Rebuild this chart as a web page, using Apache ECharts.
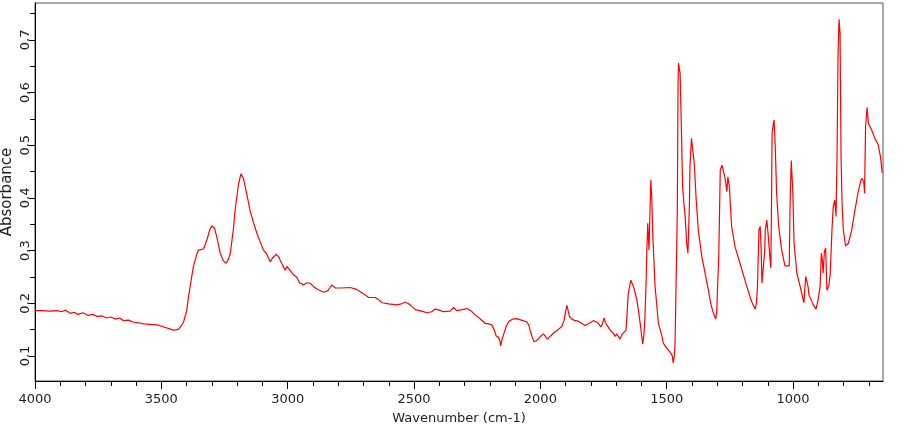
<!DOCTYPE html>
<html>
<head>
<meta charset="utf-8">
<script src="https://cdn.jsdelivr.net/npm/echarts@6/dist/echarts.min.js"></script>
<style>html,body{margin:0;padding:0;background:#fff;}#c{width:909px;height:425px;}</style>
</head>
<body>
<div id="c"></div>
<script>
const wavenumbers = [4000,3970,3940,3913,3895,3880,3860,3845,3830,3810,3790,3770,3755,3735,3715,3700,3680,3665,3650,3630,3610,3590,3570,3545,3517,3490,3470,3452,3440,3432,3420,3412,3400,3392,3380,3373,3360,3353,3333,3320,3308,3300,3290,3280,3267,3255,3244,3235,3227,3215,3208,3195,3185,3175,3168,3158,3148,3135,3122,3110,3096,3085,3069,3060,3045,3035,3030,3020,3010,3003,2997,2990,2977,2965,2953,2937,2924,2911,2898,2884,2858,2841,2832,2825,2812,2790,2753,2730,2713,2690,2680,2654,2640,2627,2600,2568,2550,2535,2525,2515,2495,2470,2449,2430,2416,2400,2384,2357,2344,2331,2310,2291,2275,2258,2240,2219,2205,2192,2183,2175,2166,2160,2157,2152,2146,2136,2126,2110,2093,2075,2054,2045,2041,2033,2025,2016,2008,1998,1988,1980,1972,1960,1942,1930,1915,1906,1900,1895,1888,1885,1875,1863,1850,1840,1836,1823,1816,1803,1790,1780,1770,1761,1755,1748,1742,1737,1725,1717,1710,1704,1698,1691,1685,1678,1671,1661,1652,1642,1637,1632,1625,1618,1610,1605,1598,1595,1590,1586,1581,1579,1575,1572,1570,1567,1563,1559,1555,1546,1533,1520,1513,1500,1493,1488,1483,1478,1474,1470,1467,1463,1458,1455,1453,1450,1447,1442,1437,1432,1427,1421,1416,1413,1410,1408,1402,1398,1395,1391,1384,1375,1361,1348,1335,1326,1315,1306,1302,1300,1294,1288,1281,1276,1270,1268,1262,1258,1256,1252,1243,1230,1210,1183,1164,1150,1145,1141,1135,1130,1126,1123,1116,1112,1110,1104,1098,1092,1088,1085,1083,1078,1075,1070,1065,1057,1045,1032,1015,1012,1009,1007,1004,1001,996,985,972,957,953,950,944,940,937,920,909,901,893,888,884,881,876,871,866,859,853,846,841,835,830,826,822,818,814,810,806,801,792,781,768,755,742,729,720,717,713,707,702,689,676,663,654,647];
const absorbance = [0.186,0.186,0.185,0.186,0.184,0.187,0.181,0.183,0.179,0.182,0.177,0.179,0.175,0.176,0.172,0.174,0.170,0.172,0.167,0.168,0.164,0.163,0.161,0.160,0.159,0.155,0.152,0.149,0.150,0.151,0.158,0.165,0.185,0.213,0.250,0.270,0.293,0.301,0.303,0.320,0.340,0.347,0.343,0.325,0.295,0.281,0.276,0.283,0.295,0.340,0.377,0.425,0.446,0.437,0.421,0.398,0.374,0.353,0.333,0.318,0.301,0.295,0.279,0.286,0.293,0.288,0.282,0.272,0.263,0.270,0.268,0.262,0.254,0.250,0.239,0.235,0.239,0.238,0.232,0.227,0.221,0.224,0.230,0.235,0.229,0.229,0.230,0.227,0.222,0.215,0.211,0.211,0.207,0.201,0.199,0.197,0.199,0.202,0.200,0.197,0.188,0.185,0.182,0.184,0.189,0.187,0.184,0.185,0.192,0.186,0.188,0.190,0.186,0.178,0.171,0.162,0.161,0.159,0.150,0.138,0.136,0.128,0.119,0.131,0.140,0.155,0.165,0.170,0.171,0.168,0.165,0.158,0.149,0.137,0.127,0.129,0.132,0.138,0.142,0.137,0.132,0.138,0.146,0.150,0.156,0.168,0.185,0.196,0.182,0.175,0.170,0.167,0.166,0.163,0.165,0.158,0.157,0.163,0.167,0.165,0.162,0.155,0.160,0.172,0.163,0.159,0.150,0.146,0.142,0.137,0.142,0.143,0.132,0.140,0.144,0.149,0.219,0.244,0.238,0.232,0.220,0.206,0.180,0.162,0.135,0.123,0.140,0.175,0.250,0.295,0.352,0.320,0.301,0.360,0.434,0.400,0.327,0.232,0.162,0.140,0.124,0.115,0.111,0.108,0.105,0.100,0.087,0.100,0.124,0.232,0.377,0.620,0.656,0.645,0.637,0.535,0.421,0.390,0.365,0.314,0.295,0.295,0.390,0.459,0.513,0.515,0.510,0.466,0.402,0.339,0.289,0.257,0.225,0.200,0.181,0.170,0.185,0.213,0.289,0.453,0.462,0.465,0.440,0.434,0.412,0.440,0.440,0.421,0.346,0.308,0.276,0.232,0.203,0.189,0.200,0.229,0.339,0.346,0.300,0.238,0.241,0.300,0.339,0.358,0.327,0.290,0.267,0.400,0.523,0.540,0.548,0.491,0.409,0.346,0.301,0.271,0.271,0.380,0.440,0.471,0.440,0.415,0.314,0.257,0.232,0.201,0.230,0.251,0.254,0.230,0.216,0.197,0.189,0.206,0.232,0.295,0.280,0.257,0.298,0.305,0.225,0.232,0.254,0.339,0.383,0.396,0.365,0.472,0.672,0.739,0.713,0.478,0.390,0.339,0.309,0.314,0.339,0.377,0.412,0.437,0.431,0.409,0.535,0.572,0.542,0.529,0.513,0.501,0.478,0.447];
const xMajorTicks = [4000,3500,3000,2500,2000,1500,1000];
const xMinorTicks = [3900,3800,3700,3600,3400,3300,3200,3100,2900,2800,2700,2600,2400,2300,2200,2100,1900,1800,1700,1600,1400,1300,1200,1100,900,800,700];
const yMajorTicks = [0.1,0.2,0.3,0.4,0.5,0.6,0.7];
const yMinorTicks = [0.15,0.25,0.35,0.45,0.55,0.65,0.75];

const FONT = 'DejaVu Sans';
const TXT = '#1e1e1e';
const chart = echarts.init(document.getElementById('c'), null, {renderer: 'canvas'});
const xRange = {type: 'value', inverse: true, min: 644, max: 4000, position: 'bottom', splitLine: {show: false}};
const yRange = {type: 'value', min: 0.0525, max: 0.770, position: 'left', splitLine: {show: false}};
chart.setOption({
  animation: false,
  backgroundColor: '#fff',
  grid: {left: 35, top: 3, right: 26, bottom: 44, show: true, borderColor: '#555', borderWidth: 1,
    containLabel: false, outerBoundsMode: 'none'},
  xAxis: [
    Object.assign({}, xRange, {
      name: 'Wavenumber (cm-1)', nameLocation: 'middle', nameGap: 31, nameMoveOverlap: false,
      nameTextStyle: {fontFamily: FONT, fontSize: 13, color: TXT},
      axisLine: {show: true, lineStyle: {color: '#000', width: 1}},
      axisTick: {show: true, customValues: xMajorTicks, length: 8, inside: false, lineStyle: {color: '#000', width: 1}},
      axisLabel: {customValues: xMajorTicks, margin: 12, fontFamily: FONT, fontSize: 13, color: TXT,
        formatter: v => String(Math.round(v))}
    }),
    Object.assign({}, xRange, {
      axisLine: {show: false},
      axisTick: {show: true, customValues: xMinorTicks, length: 5, inside: false, lineStyle: {color: '#000', width: 1}},
      axisLabel: {show: false}
    })
  ],
  yAxis: [
    Object.assign({}, yRange, {
      name: 'Absorbance', nameLocation: 'middle', nameGap: 20, nameMoveOverlap: false,
      nameTextStyle: {fontFamily: FONT, fontSize: 15, color: TXT},
      axisLine: {show: true, lineStyle: {color: '#000', width: 1}},
      axisTick: {show: true, customValues: yMajorTicks, length: 6, inside: false, lineStyle: {color: '#000', width: 1}},
      axisLabel: {customValues: yMajorTicks, rotate: 90, margin: 3, fontFamily: FONT, fontSize: 13, color: TXT,
        formatter: v => v.toFixed(1).replace('.', ',')}
    }),
    Object.assign({}, yRange, {
      axisLine: {show: false},
      axisTick: {show: true, customValues: yMinorTicks, length: 5, inside: false, lineStyle: {color: '#000', width: 1}},
      axisLabel: {show: false}
    })
  ],
  series: [{
    type: 'line',
    xAxisIndex: 0, yAxisIndex: 0,
    data: wavenumbers.map((w, i) => [w, absorbance[i]]),
    showSymbol: false,
    symbol: 'none',
    lineStyle: {color: '#ff0000', width: 1.2},
    silent: true
  }]
});
</script>
</body>
</html>
